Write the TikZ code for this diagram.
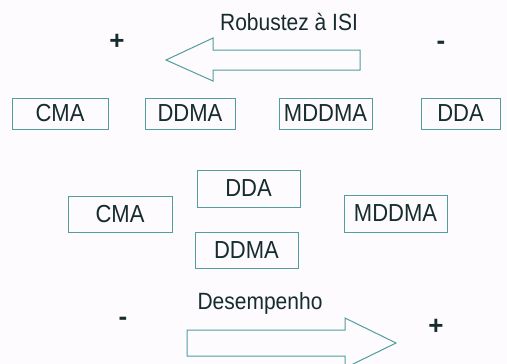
\documentclass[tikz,border=0pt]{standalone}
\usepackage{fontspec}
\setmainfont{Liberation Sans}
\definecolor{edge}{RGB}{80,158,160}
\definecolor{ink}{RGB}{22,44,46}
\definecolor{paper}{RGB}{253,251,253}
% slightly tall lettering
\newcommand{\tallText}[1]{\scalebox{1}[1.12]{#1}}
\begin{document}
\begin{tikzpicture}[x=1pt,y=-1pt,
  algo/.style={draw=edge,line width=1pt,text=ink,inner sep=0pt,
    font=\fontsize{22}{26}\selectfont},
  lbl/.style={text=ink,inner sep=0pt,font=\fontsize{21}{25}\selectfont},
  sign/.style={text=ink,inner sep=0pt,font=\fontsize{26}{30}\selectfont\bfseries},
  bigarrow/.style={draw=edge,line width=1pt,line join=miter}]
  \fill[paper] (0,0) rectangle (507,364);
  \useasboundingbox (0,0) rectangle (507,364);

  % ISI robustness: ordering arrow pointing left
  \node[lbl] (rob) at (289,22) {\tallText{Robustez à ISI}};
  \node[sign] (robplus) at (117,42) {+};
  \node[sign] (robminus) at (441,45) {-};
  \draw[bigarrow] (166,60) -- (213,38) -- (213,50) -- (360,50) -- (360,70)
    -- (213,70) -- (213,81) -- cycle;

  % ranking by ISI robustness
  \node[algo,minimum width=96pt,minimum height=31pt] (cma1) at (60,113.5) {\tallText{CMA}};
  \node[algo,minimum width=90pt,minimum height=31pt] (ddma1) at (190,113.5) {\tallText{DDMA}};
  \node[algo,minimum width=93pt,minimum height=31pt] (mddma1) at (325.5,113.5) {\tallText{MDDMA}};
  \node[algo,minimum width=79pt,minimum height=31pt] (dda1) at (460.5,113.5) {\tallText{DDA}};

  % ranking by performance
  \node[algo,minimum width=104pt,minimum height=36pt] (cma2) at (120,214) {\tallText{CMA}};
  \node[algo,minimum width=103pt,minimum height=37pt] (dda2) at (248.5,188.5) {\tallText{DDA}};
  \node[algo,minimum width=103pt,minimum height=36pt] (ddma2) at (246.5,250) {\tallText{DDMA}};
  \node[algo,minimum width=103pt,minimum height=37pt] (mddma2) at (395.5,213.5) {\tallText{MDDMA}};

  % performance: ordering arrow pointing right
  \node[lbl] (des) at (260,303) {\tallText{Desempenho}};
  \node[sign] (desminus) at (123,321) {-};
  \node[sign] (desplus) at (436,327) {+};
  \draw[bigarrow] (396,343) -- (345,318) -- (345,330) -- (187,330) -- (187,356)
    -- (345,356) -- (345,368) -- cycle;
\end{tikzpicture}
\end{document}
